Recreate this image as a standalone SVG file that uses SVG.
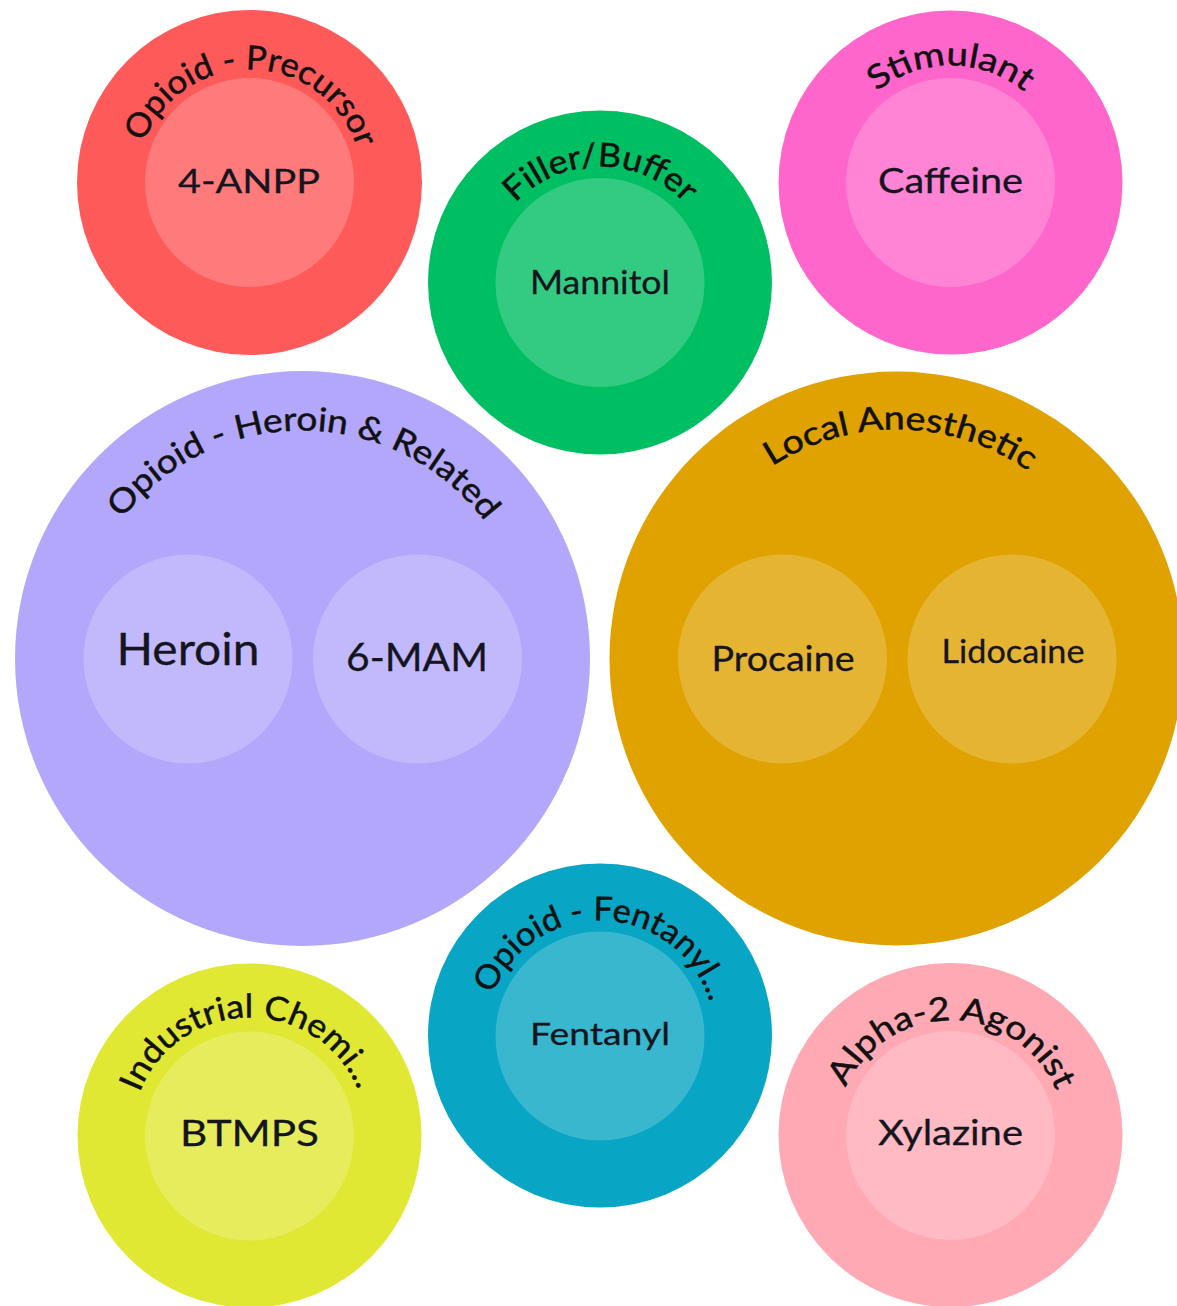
<svg xmlns="http://www.w3.org/2000/svg" xmlns:xlink="http://www.w3.org/1999/xlink" width="1177" height="1306" viewBox="0 0 1177 1306">
<style>
.inner{fill:#ffffff;fill-opacity:0.2}
.lbl{font-family:Lato,"Liberation Sans",sans-serif;font-size:33px;fill:#111111;stroke:#111111;stroke-width:0.5px}
.leaf{font-family:Lato,"Liberation Sans",sans-serif;fill:#151520;stroke:#151520;stroke-width:0.3px;text-anchor:middle}
</style>
<defs>
<path id="p1" d="M249.5,295.5 A113,113 0 1,1 249.5,69.5 A113,113 0 1,1 249.5,295.5"/>
<path id="p2" d="M600,398.5 A116,116 0 1,1 600,166.5 A116,116 0 1,1 600,398.5"/>
<path id="p3" d="M950.5,299.5 A117,117 0 1,1 950.5,65.5 A117,117 0 1,1 950.5,299.5"/>
<path id="p4" d="M302.5,886.5 A228,228 0 1,1 302.5,430.5 A228,228 0 1,1 302.5,886.5"/>
<path id="p5" d="M896.5,887.5 A229,229 0 1,1 896.5,429.5 A229,229 0 1,1 896.5,887.5"/>
<path id="p6" d="M600,1150.5 A115,115 0 1,1 600,920.5 A115,115 0 1,1 600,1150.5"/>
<path id="p7" d="M249.5,1253.5 A118,118 0 1,1 249.5,1017.5 A118,118 0 1,1 249.5,1253.5"/>
<path id="p8" d="M950.5,1250.5 A115,115 0 1,1 950.5,1020.5 A115,115 0 1,1 950.5,1250.5"/>
</defs>
<g id="connectors"></g>

<g id="opioid-precursor">
<circle cx="249.5" cy="182.5" r="172.5" fill="#FF5A5A"/>
<circle class="inner" cx="249.5" cy="182.5" r="104.5"/>
<text class="lbl"><textPath href="#p1" xlink:href="#p1" startOffset="357.5" text-anchor="middle" textLength="279" lengthAdjust="spacingAndGlyphs">Opioid - Precursor</textPath></text>
<text class="leaf" x="249" y="193" font-size="32" textLength="142" lengthAdjust="spacingAndGlyphs">4-ANPP</text>
</g>

<g id="filler-buffer">
<circle cx="600" cy="282.5" r="172" fill="#00BF63"/>
<circle class="inner" cx="600" cy="282.5" r="104.5"/>
<text class="lbl"><textPath href="#p2" xlink:href="#p2" startOffset="364.4" text-anchor="middle" textLength="190" lengthAdjust="spacingAndGlyphs">Filler/Buffer</textPath></text>
<text class="leaf" x="600" y="294" font-size="33" textLength="140" lengthAdjust="spacingAndGlyphs">Mannitol</text>
</g>

<g id="stimulant">
<circle cx="950.5" cy="182.5" r="172" fill="#FF66CC"/>
<circle class="inner" cx="950.5" cy="182.5" r="104.5"/>
<text class="lbl"><textPath href="#p3" xlink:href="#p3" startOffset="367.6" text-anchor="middle" textLength="160" lengthAdjust="spacingAndGlyphs">Stimulant</textPath></text>
<text class="leaf" x="950.5" y="193" font-size="34" textLength="145" lengthAdjust="spacingAndGlyphs">Caffeine</text>
</g>

<g id="opioid-heroin">
<circle cx="302.5" cy="658.5" r="287.5" fill="#B3A7FC"/>
<circle class="inner" cx="188" cy="659" r="104.5"/>
<circle class="inner" cx="417.5" cy="659" r="104.5"/>
<text class="lbl"><textPath href="#p4" xlink:href="#p4" startOffset="717.7" text-anchor="middle" textLength="419" lengthAdjust="spacingAndGlyphs">Opioid - Heroin &amp; Related</textPath></text>
<text class="leaf" x="188" y="665" font-size="44" textLength="143" lengthAdjust="spacingAndGlyphs">Heroin</text>
<text class="leaf" x="417" y="671" font-size="39" textLength="142" lengthAdjust="spacingAndGlyphs">6-MAM</text>
</g>

<g id="local-anesthetic">
<circle cx="896.5" cy="658.5" r="287" fill="#E0A200"/>
<circle class="inner" cx="782.5" cy="659" r="104.5"/>
<circle class="inner" cx="1012" cy="659" r="104.5"/>
<text class="lbl"><textPath href="#p5" xlink:href="#p5" startOffset="723.4" text-anchor="middle" textLength="272" lengthAdjust="spacingAndGlyphs">Local Anesthetic</textPath></text>
<text class="leaf" x="783" y="671" font-size="34" textLength="143" lengthAdjust="spacingAndGlyphs">Procaine</text>
<text class="leaf" x="1013" y="663" font-size="32" textLength="143" lengthAdjust="spacingAndGlyphs">Lidocaine</text>
</g>

<g id="opioid-fentanyl">
<circle cx="600" cy="1035.5" r="172" fill="#08A6C4"/>
<circle class="inner" cx="600" cy="1036" r="104.5"/>
<text class="lbl"><textPath href="#p6" xlink:href="#p6" startOffset="365" text-anchor="middle" textLength="285" lengthAdjust="spacingAndGlyphs">Opioid - Fentanyl...</textPath></text>
<text class="leaf" x="600" y="1045" font-size="31" textLength="140" lengthAdjust="spacingAndGlyphs">Fentanyl</text>
</g>

<g id="industrial-chemical">
<circle cx="249.5" cy="1135.5" r="172" fill="#E0E833"/>
<circle class="inner" cx="249.5" cy="1136" r="104.5"/>
<text class="lbl"><textPath href="#p7" xlink:href="#p7" startOffset="369" text-anchor="middle" textLength="280" lengthAdjust="spacingAndGlyphs">Industrial Chemi...</textPath></text>
<text class="leaf" x="249.5" y="1146" font-size="36" textLength="139" lengthAdjust="spacingAndGlyphs">BTMPS</text>
</g>

<g id="alpha2-agonist">
<circle cx="950.5" cy="1135" r="172" fill="#FFA9B4"/>
<circle class="inner" cx="950.5" cy="1135.5" r="104.5"/>
<text class="lbl"><textPath href="#p8" xlink:href="#p8" startOffset="362.8" text-anchor="middle" textLength="266" lengthAdjust="spacingAndGlyphs">Alpha-2 Agonist</textPath></text>
<text class="leaf" x="950.5" y="1145" font-size="35" textLength="145" lengthAdjust="spacingAndGlyphs">Xylazine</text>
</g>
</svg>
